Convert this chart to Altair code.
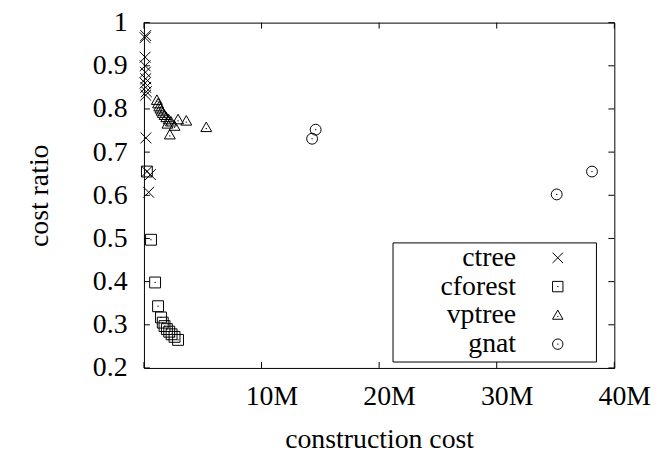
import altair as alt
import pandas as pd

# ---------------- data (construction cost in millions, cost ratio) ----------------
series = ["ctree", "cforest", "vptree", "gnat"]

ctree_x = [0.15, 0.10, 0.10, 0.10, 0.12, 0.15, 0.10, 0.15, 0.20, 0.15, 0.17, 0.25, 0.55, 0.40]
ctree_y = [0.970, 0.965, 0.920, 0.900, 0.885, 0.870, 0.860, 0.850, 0.840, 0.832, 0.733, 0.655, 0.648, 0.607]

cforest_x = [0.25, 0.60, 0.95, 1.20, 1.45, 1.60, 1.75, 1.95, 2.15, 2.35, 2.60, 2.90]
cforest_y = [0.655, 0.497, 0.398, 0.343, 0.317, 0.305, 0.297, 0.290, 0.284, 0.278, 0.272, 0.265]

vptree_x = [1.1, 1.2, 1.3, 1.4, 1.5, 1.6, 1.75, 1.9, 2.1, 2.3, 2.0, 2.6, 2.9, 3.6, 2.2, 5.3]
vptree_y = [0.820, 0.812, 0.805, 0.800, 0.795, 0.790, 0.785, 0.780, 0.775, 0.770, 0.765, 0.760, 0.775, 0.772, 0.740, 0.757]

gnat_x = [14.6, 14.3, 38.1, 35.1]
gnat_y = [0.752, 0.731, 0.655, 0.602]

x_ticks = [0, 10e6, 20e6, 30e6, 40e6]
y_ticks = [0.2, 0.3, 0.4, 0.5, 0.6, 0.7, 0.8, 0.9, 1.0]

rows = []
for name, xs, ys in [("ctree", ctree_x, ctree_y), ("cforest", cforest_x, cforest_y),
                     ("vptree", vptree_x, vptree_y), ("gnat", gnat_x, gnat_y)]:
    for x, y in zip(xs, ys):
        rows.append({"series": name, "cost": x * 1e6, "ratio": y})
df = pd.DataFrame(rows)

# ---------------- style ----------------
W, H = 474, 348
FONT = "Liberation Serif"
FS = 28

cross = "M-1,-1L1,1M-1,1L1,-1"
square = "M-1,-1H1V1H-1Z M-0.12,0H0.12"
triangle = "M0,-1L1,0.75H-1Z M-0.12,0.2H0.12"
circle = "M1,0A1,1 0 1,1 -1,0A1,1 0 1,1 1,0Z M-0.12,0H0.12"

xscale = alt.Scale(domain=[0, 40e6], nice=False, zero=False)
yscale = alt.Scale(domain=[0.2, 1.0], nice=False, zero=False)

points = alt.Chart(df).mark_point(filled=False, strokeWidth=1, color="black", size=120, opacity=1).encode(
    x=alt.X("cost:Q", scale=xscale,
            axis=alt.Axis(values=x_ticks, title="construction cost",
                          labelExpr="datum.value == 0 ? '' : format(datum.value / 1e6, 'd') + 'M'",
                          labelPadding=15, labelOffset=10, labelFlush=False, labelOverlap=False,
                          titleX=W / 2, titleY=72, titleBaseline="middle")),
    y=alt.Y("ratio:Q", scale=yscale,
            axis=alt.Axis(values=y_ticks, title="cost ratio", format=".1~f", labelPadding=17,
                          labelFlush=False, labelOverlap=False,
                          titleX=-105, titleY=H / 2, titleAngle=-90, titleAlign="center",
                          titleBaseline="middle")),
    shape=alt.Shape("series:N", scale=alt.Scale(domain=series, range=[cross, square, triangle, circle]),
                    legend=alt.Legend(orient="none", legendX=250, legendY=223, title=None,
                                      padding=0, labelFont=FONT, labelFontSize=FS, labelColor="black",
                                      labelAlign="right", labelOffset={"expr": "-56"}, symbolOffset=153,
                                      symbolSize=110, symbolStrokeWidth=1, symbolStrokeColor="black",
                                      symbolFillColor="transparent", rowPadding=1, labelLimit=0)),
)

frame = alt.Chart(pd.DataFrame({"k": [0]})).mark_rect(fill="white", stroke="black", strokeWidth=1).encode(
    x=alt.value(251), x2=alt.value(456), y=alt.value(222), y2=alt.value(342)
)

yt = pd.DataFrame({"ratio": y_ticks})
xt = pd.DataFrame({"cost": x_ticks})
tl = alt.Chart(yt).mark_rule(color="black", strokeWidth=1).encode(
    y=alt.Y("ratio:Q", scale=yscale), x=alt.value(0), x2=alt.value(6))
tr = alt.Chart(yt).mark_rule(color="black", strokeWidth=1).encode(
    y=alt.Y("ratio:Q", scale=yscale), x=alt.value(W - 6), x2=alt.value(W))
tb = alt.Chart(xt).mark_rule(color="black", strokeWidth=1).encode(
    x=alt.X("cost:Q", scale=xscale), y=alt.value(H - 6), y2=alt.value(H))
tt = alt.Chart(xt).mark_rule(color="black", strokeWidth=1).encode(
    x=alt.X("cost:Q", scale=xscale), y=alt.value(0), y2=alt.value(6))

chart = alt.layer(points, tl, tr, tb, tt, frame).properties(
    width=W, height=H,
    autosize=alt.AutoSizeParams(type="none"),
    padding={"left": 137, "top": 13, "right": 42, "bottom": 88},
).configure(background="white").configure_view(stroke="black", strokeWidth=1).configure_axis(
    domain=False, ticks=False, grid=False, labelFont=FONT, labelFontSize=FS, labelColor="black",
    titleFont=FONT, titleFontSize=FS, titleFontWeight="normal", titleColor="black"
)

chart.save("out.html", embed_options={"renderer": "svg", "actions": False})
